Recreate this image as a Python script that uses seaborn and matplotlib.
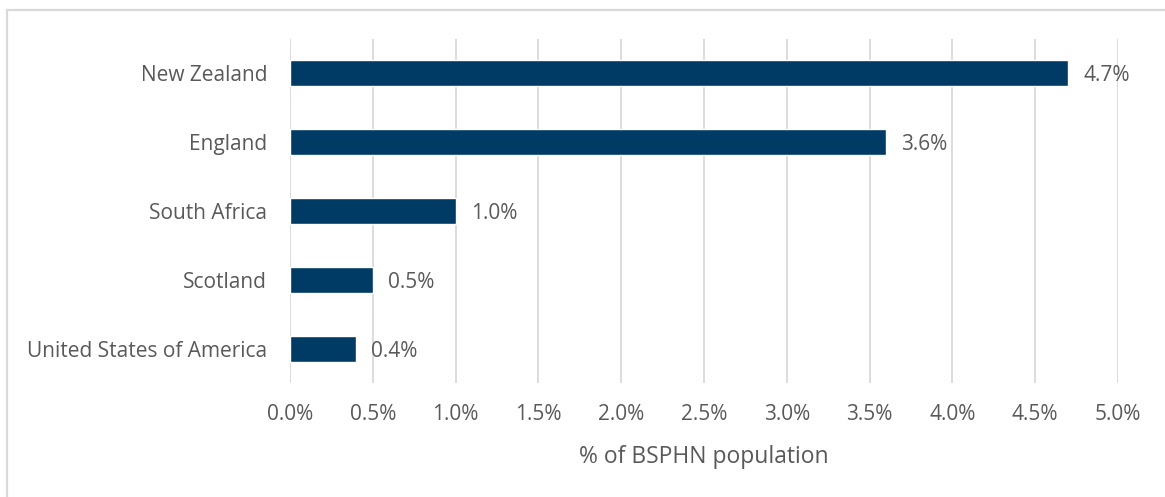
import matplotlib
matplotlib.use("Agg")
import matplotlib.pyplot as plt
import seaborn as sns
import pandas as pd
from matplotlib.patches import Rectangle
from matplotlib.ticker import FuncFormatter

countries = ["New Zealand", "England", "South Africa", "Scotland", "United States of America"]
shares = [4.7, 3.6, 1.0, 0.5, 0.4]
xticks = [0.0, 0.5, 1.0, 1.5, 2.0, 2.5, 3.0, 3.5, 4.0, 4.5, 5.0]
x_title = "% of BSPHN population"

df = pd.DataFrame({"country": countries, "share": shares})

sns.set_theme(style="white")
plt.rcParams["font.family"] = ["Open Sans", "DejaVu Sans"]

TEXT = "#595959"
BAR = "#003B66"
GRID = "#D9D9D9"
FS = 15

fig = plt.figure(figsize=(11.65, 4.97), dpi=100)
ax = fig.add_axes([0.2489, 0.2284, 0.9597 - 0.2489, 0.9225 - 0.2284])

sns.barplot(data=df, x="share", y="country", orient="h", color=BAR,
            width=0.39, saturation=1, ax=ax, zorder=3)

ax.set_xlim(xticks[0], xticks[-1])
ax.set_xticks(xticks)
ax.xaxis.set_major_formatter(FuncFormatter(lambda v, _: f"{v:.1f}%"))
ax.grid(axis="x", color=GRID, linewidth=1.3, zorder=0)
ax.grid(axis="y", visible=False)
for s in ax.spines.values():
    s.set_visible(False)

ax.tick_params(axis="x", colors=TEXT, labelsize=FS, length=0, pad=15)
ax.tick_params(axis="y", colors=TEXT, labelsize=FS, length=0, pad=16.5)
ax.set_ylabel("")
ax.set_xlabel(x_title, color=TEXT, fontsize=16.5, labelpad=14)

for i, v in enumerate(df["share"]):
    ax.annotate(f"{v:.1f}%", xy=(v, i), xytext=(11, -1.5), textcoords="offset points",
                va="center", ha="left", color=TEXT, fontsize=FS)

# light frame along the top and left edges of the figure
fig.add_artist(Rectangle((6.5 / 1165, -0.1), 1.2, (497 - 9.5) / 497 + 0.1,
                         transform=fig.transFigure, fill=False,
                         edgecolor=GRID, linewidth=1.6))

fig.savefig("out.png", dpi=100, facecolor="white")
